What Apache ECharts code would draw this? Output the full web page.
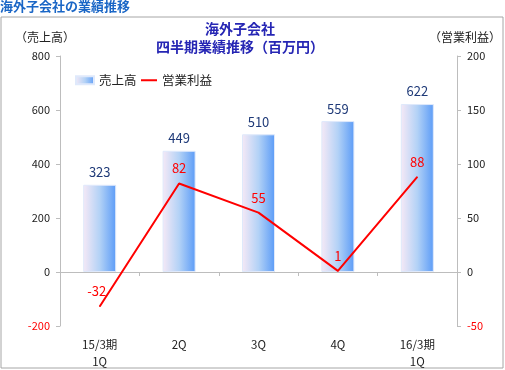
<!DOCTYPE html>
<html>
<head>
<meta charset="utf-8">
<script src="https://cdn.jsdelivr.net/npm/echarts@6/dist/echarts.min.js"></script>
<style>
html,body{margin:0;padding:0;background:#fff;}
#c{width:505px;height:370px;}
</style>
</head>
<body>
<div id="c"></div>
<script>
var categories = ['15/3期\n1Q', '2Q', '3Q', '4Q', '16/3期\n1Q'];
var salesValues = [323, 449, 510, 559, 622];
var profitValues = [-32, 82, 55, 1, 88];
var salesName = '売上高';
var profitName = '営業利益';
var leftTicks = {min: -200, max: 800, interval: 200};
var rightTicks = {min: -50, max: 200, interval: 50};

var FONT = '"Noto Sans CJK JP", "Noto Sans", sans-serif';
var chart = echarts.init(document.getElementById('c'), null, {renderer: 'canvas'});

var barGrad = new echarts.graphic.LinearGradient(0, 0, 1, 0, [
  {offset: 0, color: '#f6e9f6'},
  {offset: 0.5, color: '#b3d2f6'},
  {offset: 1, color: '#5b9bf7'}
]);

var profitData = profitValues.map(function (v, i) {
  if (i === 0) return {value: v, label: {offset: [-3, 0]}};
  return v;
});

chart.setOption({
  animation: false,
  textStyle: {fontFamily: FONT},
  graphic: [
    {type: 'rect', shape: {x: 1, y: 17, width: 502, height: 351}, style: {fill: 'none', stroke: '#a6a6a6', lineWidth: 1}, z: -1},
    {type: 'text', left: 0, top: 0, style: {text: '海外子会社の業績推移', fill: '#1a66c6', font: 'bold 13px ' + FONT}}
  ],
  title: {
    text: '海外子会社\n四半期業績推移（百万円）',
    left: 240, top: 20, textAlign: 'center', padding: 0,
    textStyle: {color: '#2626b4', fontSize: 14, fontWeight: 'bold', lineHeight: 18, fontFamily: FONT}
  },
  legend: [
    {data: [salesName], left: 75, top: 74, padding: 0, icon: 'rect', itemWidth: 18, itemHeight: 8, itemGap: 4,
     textStyle: {fontSize: 12.5, color: '#222', fontFamily: FONT}},
    {data: [profitName], left: 141, top: 74, padding: 0, icon: 'rect', itemWidth: 16, itemHeight: 2,
     textStyle: {fontSize: 12.5, color: '#222', fontFamily: FONT}}
  ],
  grid: {left: 60, right: 48, top: 56, bottom: 42, containLabel: false},
  xAxis: [
    {type: 'category', data: categories, position: 'bottom',
     axisLine: {onZero: true, lineStyle: {color: '#bdbdbd'}},
     axisTick: {show: true, length: 4, lineStyle: {color: '#bdbdbd'}},
     axisLabel: {show: false}},
    {type: 'category', data: categories, position: 'bottom',
     axisLine: {show: false, onZero: false}, axisTick: {show: false},
     axisLabel: {show: true, margin: 10, fontSize: 11.5, lineHeight: 17, color: '#222', fontFamily: FONT}}
  ],
  yAxis: [
    {type: 'value', min: leftTicks.min, max: leftTicks.max, interval: leftTicks.interval, position: 'left',
     name: '（売上高）', nameLocation: 'end', nameGap: 13,
     nameTextStyle: {fontSize: 12, color: '#222', align: 'center', padding: [0, 30, 0, 0], fontFamily: FONT},
     axisLine: {show: true, lineStyle: {color: '#bdbdbd'}},
     axisTick: {show: true, length: 4, lineStyle: {color: '#bdbdbd'}},
     splitLine: {show: false},
     axisLabel: {fontSize: 11, margin: 10, fontFamily: FONT,
       color: function (v) { return v < 0 ? '#ff0000' : '#222'; }}},
    {type: 'value', min: rightTicks.min, max: rightTicks.max, interval: rightTicks.interval, position: 'right',
     name: '（営業利益）', nameLocation: 'end', nameGap: 13,
     nameTextStyle: {fontSize: 12, color: '#222', align: 'center', padding: [0, 0, 0, 16], fontFamily: FONT},
     axisLine: {show: true, lineStyle: {color: '#bdbdbd'}},
     axisTick: {show: true, length: 4, lineStyle: {color: '#bdbdbd'}},
     splitLine: {show: false},
     axisLabel: {fontSize: 11, margin: 10, fontFamily: FONT,
       color: function (v) { return v < 0 ? '#ff0000' : '#222'; }}}
  ],
  series: [
    {name: salesName, type: 'bar', xAxisIndex: 0, yAxisIndex: 0, data: salesValues, barWidth: 33,
     itemStyle: {color: barGrad, borderColor: '#dfe9fb', borderWidth: 1},
     label: {show: true, position: 'top', distance: 6, fontSize: 13, color: '#1f3a78', fontFamily: FONT}},
    {name: profitName, type: 'line', xAxisIndex: 0, yAxisIndex: 1, data: profitData,
     symbol: 'circle', symbolSize: 1, showSymbol: true,
     itemStyle: {color: '#ff0000'}, lineStyle: {color: '#ff0000', width: 2},
     label: {show: true, position: 'top', distance: 8, fontSize: 13, color: '#ff0000', fontFamily: FONT}, z: 5}
  ]
});
</script>
</body>
</html>
